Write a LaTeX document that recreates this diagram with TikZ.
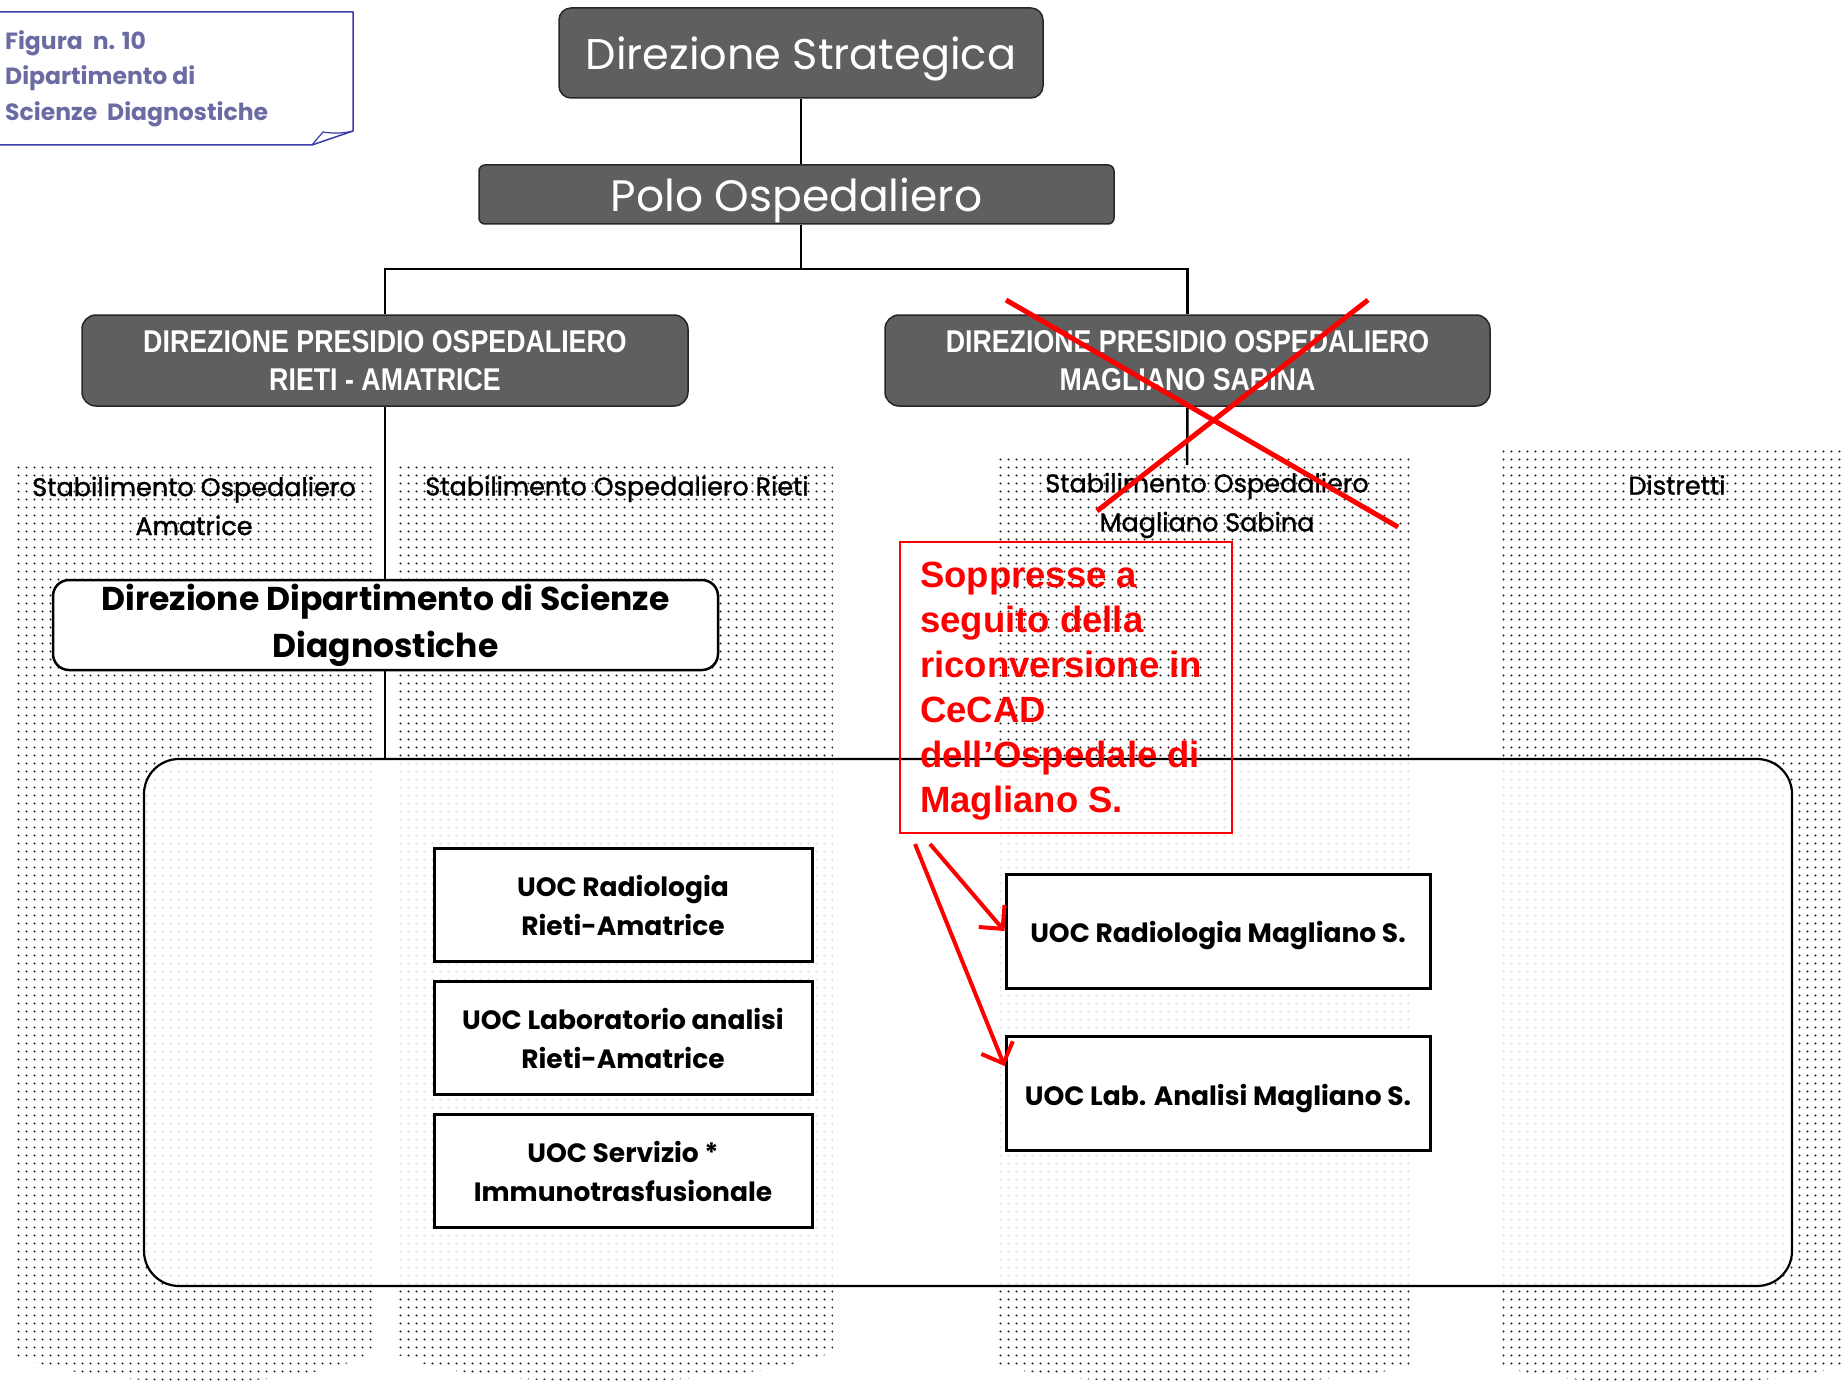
\documentclass[tikz,border=0pt]{standalone}
\usepackage{fontspec}
\usepackage{graphicx}
\setmainfont{Poppins}
\newfontfamily\headfont{Poppins}[FakeBold=1.2]
\newfontfamily\arialfont{Liberation Sans}
\usetikzlibrary{patterns.meta,arrows.meta,calc}
\definecolor{boxgray}{HTML}{5F5F5F}
\definecolor{labelblue}{HTML}{6B6BA3}
\definecolor{labelborder}{HTML}{3B3BA6}
\definecolor{redx}{HTML}{FF0000}
\tikzdeclarepattern{
  name=coldots, type=uncolored,
  bottom left={(0pt,0pt)}, top right={(7.5pt,7.5pt)},
  tile size={(7.5pt,7.5pt)},
  code={\pgfpathcircle{\pgfqpoint{3.75pt}{3.75pt}}{1.2pt}\pgfusepath{fill}}
}
\pgfdeclarelayer{bg}
\pgfdeclarelayer{lines}
\pgfsetlayers{bg,lines,main}
\begin{document}
\begin{tikzpicture}[x=1pt,y=-1pt,
  darkbox/.style={draw=black!85, line width=1.5pt, fill=boxgray, text=white, align=center, inner sep=0pt},
  conn/.style={draw=black, line width=2.5pt},
  whitebox/.style={draw=black, line width=2.5pt, fill=white, align=center, inner sep=0pt},
  uoc/.style={whitebox, line width=3pt, font=\bfseries\fontsize{26.5}{39}\selectfont},
  colhead/.style={font=\headfont\fontsize{25.5}{39}\selectfont, align=center, inner sep=0pt},
  dotcol/.style={pattern=coldots, pattern color=black!85},
  redline/.style={draw=redx, line width=5pt},
  redarrow/.style={draw=redx, line width=4pt, -{Straight Barb[length=17pt,width=34pt]}},
]
\useasboundingbox (0,0) rectangle (1845,1383);

% background and dotted columns
\begin{pgfonlayer}{bg}
\fill[white] (0,0) rectangle (1845,1383);
\path[dotcol] (14,465) -- (372,465) -- (372,1352) .. controls (300,1395) and (90,1388) .. (14,1355) -- cycle;
\path[dotcol] (398,465) -- (833,465) -- (833,1352) .. controls (740,1390) and (480,1392) .. (398,1355) -- cycle;
\path[dotcol] (998,457) -- (1412,457) -- (1412,1365) .. controls (1330,1390) and (1080,1390) .. (998,1365) -- cycle;
\path[dotcol] (1497,450) -- (1845,450) -- (1845,1365) .. controls (1770,1390) and (1570,1390) .. (1497,1365) -- cycle;
\end{pgfonlayer}

% figure label
\draw[labelborder, line width=1.5pt, line join=round] (-5,12) -- (353,12) -- (353,131) -- (312,145) -- (-5,145);
\draw[labelborder, line width=1.2pt] (312,145) -- (323,132) .. controls (335,134) and (345,133) .. (353,131);
\node[anchor=north west, inner sep=0pt, align=left, text=labelblue, font=\bfseries\fontsize{23.5}{35.5}\selectfont] (figlabel) at (5,30) {Figura~~n. 10\\Dipartimento di\\Scienze~~Diagnostiche};

% top boxes
\node[darkbox, rounded corners=12pt, minimum width=484, minimum height=90, text height=40pt, text depth=6pt, font=\fontsize{43}{50}\selectfont] (ds) at (801,53) {Direzione Strategica};
\node[darkbox, rounded corners=6pt, minimum width=635, minimum height=59, text height=41pt, text depth=6pt, font=\fontsize{44}{50}\selectfont] (polo) at (796.5,194.5) {Polo Ospedaliero};
\node[darkbox, rounded corners=14pt, minimum width=606, minimum height=91, font=\arialfont\bfseries\fontsize{31.5}{38}\selectfont] (dpoL) at (385,360.5) {\scalebox{0.85}[1]{DIREZIONE PRESIDIO OSPEDALIERO}\\\scalebox{0.85}[1]{RIETI - AMATRICE}};
\node[darkbox, rounded corners=14pt, minimum width=605, minimum height=91, font=\arialfont\bfseries\fontsize{31.5}{38}\selectfont] (dpoR) at (1187.5,360.5) {\scalebox{0.85}[1]{DIREZIONE PRESIDIO OSPEDALIERO}\\\scalebox{0.85}[1]{MAGLIANO SABINA}};

% column headers
\node[colhead] (hA) at (194,506) {Stabilimento Ospedaliero\\Amatrice};
\node[colhead] (hR) at (617,489) {Stabilimento Ospedaliero Rieti};
\node[colhead] (hM) at (1207,505.5) {Stabilimento Ospedaliero\\Magliano Sabina};
\node[colhead] (hD) at (1677,485) {Distretti};

% big container
\node[draw=black, line width=2.2pt, rounded corners=35pt, fill=white, fill opacity=0.82, minimum width=1648, minimum height=527] (big) at (968,1022.5) {};

% department direction box
\node[whitebox, rounded corners=16pt, minimum width=665, minimum height=90, font=\bfseries\fontsize{33}{47}\selectfont] (ddip) at (385.5,625) {Direzione Dipartimento di Scienze\\Diagnostiche};

% connectors
\coordinate (bar) at (0,269);
\coordinate (rend) at (1187,465);
\begin{pgfonlayer}{lines}
\draw[conn] (ds.south) -- (ds.south |- polo.north);
\draw[conn] (ds.south |- polo.south) -- (ds.south |- bar);
\draw[conn] (dpoL.north) -- (dpoL.north |- bar) -- (dpoR.north |- bar) -- (dpoR.north);
\draw[conn] (dpoL.south) -- (dpoL.south |- big.north);
\draw[conn] (dpoR.south) -- (rend);
\end{pgfonlayer}

% UOC boxes
\node[uoc, minimum width=378, minimum height=113] (u1) at (623,905) {UOC Radiologia\\Rieti-Amatrice};
\node[uoc, minimum width=378, minimum height=113] (u2) at (623,1038) {UOC Laboratorio analisi\\Rieti-Amatrice};
\node[uoc, minimum width=378, minimum height=113] (u3) at (623,1171) {UOC Servizio *\\Immunotrasfusionale};
\node[uoc, minimum width=424, minimum height=114, text height=28pt, text depth=5pt] (m1) at (1218,931) {UOC Radiologia Magliano S.};
\node[uoc, minimum width=424, minimum height=114, text height=28pt, text depth=5pt] (m2) at (1218,1093.5) {UOC Lab. Analisi Magliano S.};

% red annotation
\node[draw=redx, line width=1.5pt, minimum width=332, minimum height=291, inner sep=0pt] (redbox) at (1066,687.5) {};
\node[anchor=north west, inner sep=0pt, align=left, text=redx, font=\arialfont\bfseries\fontsize{36.5}{45}\selectfont] (redtxt) at (920,562) {Soppresse a\\seguito della\\riconversione in\\CeCAD\\dell’Ospedale di\\Magliano S.};

% red cross
\draw[redline] (1006,300) -- (1398,527);
\draw[redline] (1368,300) -- (1097,511);

% red arrows
\coordinate (a1) at (930,844);
\coordinate (a2) at (915,844);
\draw[redarrow] (a1) -- (m1.west);
\draw[redarrow] (a2) -- ($(m2.north west)+(0,31)$);
\end{tikzpicture}
\end{document}
